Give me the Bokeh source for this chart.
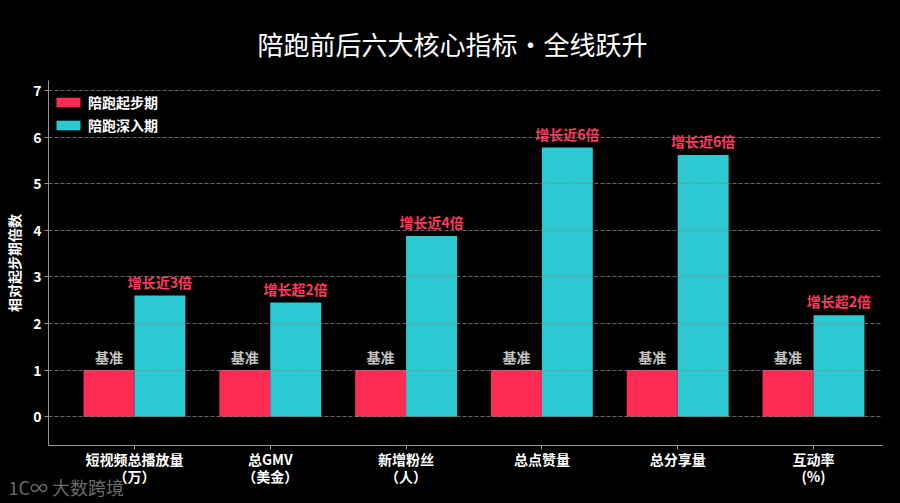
from bokeh.plotting import figure
from bokeh.models import ColumnDataSource, FixedTicker, Range1d, Legend, LegendItem, Title
from bokeh.transform import dodge
from bokeh.embed import file_html
from bokeh.resources import INLINE
from bokeh.core.properties import value

# ---- data ----
categories = ["短视频总播放量\n（万）", "总GMV\n（美金）", "新增粉丝\n（人）", "总点赞量", "总分享量", "互动率\n(%)"]
stage_start = [1, 1, 1, 1, 1, 1]
stage_deep = [2.6, 2.45, 3.88, 5.78, 5.62, 2.18]
base_labels = ["基准", "基准", "基准", "基准", "基准", "基准"]
growth_labels = ["增长近3倍", "增长超2倍", "增长近4倍", "增长近6倍", "增长近6倍", "增长超2倍"]
series_names = ["陪跑起步期", "陪跑深入期"]
y_ticks = [0, 1, 2, 3, 4, 5, 6, 7]
title_text = "陪跑前后六大核心指标・全线跃升"
y_label_text = "相对起步期倍数"
watermark_text = "1C∞ 大数跨境"

FONT = "Noto Sans CJK SC"
RED = "#fe2c55"
TEAL = "#2cc9d3"
W, H = 900, 503
FL, FR, FT, FB = 48, 882, 80, 445   # frame edges in page pixels

p = figure(width=W, height=H, output_backend="svg", toolbar_location=None,
           x_range=Range1d(-0.633, 5.508), y_range=Range1d(-0.62, 7.22),
           min_border_left=FL, min_border_right=W - FR, min_border_top=FT, min_border_bottom=H - FB,
           background_fill_color="black", border_fill_color="black", outline_line_color=None)

idx = list(range(len(categories)))
src = ColumnDataSource(dict(x=idx, s1=stage_start, s2=stage_deep, base=base_labels, growth=growth_labels))

bw = 0.375
r1 = p.vbar(x=dodge('x', -bw / 2), top='s1', bottom=0, width=bw, source=src,
            fill_color=RED, line_color=None)
r2 = p.vbar(x=dodge('x', bw / 2), top='s2', bottom=0, width=bw, source=src,
            fill_color=TEAL, line_color=None)

p.text(x=dodge('x', -bw / 2), y='s1', text='base', source=src, text_align='center',
       text_baseline='bottom', y_offset=-3, text_font=value(FONT), text_font_style='bold',
       text_font_size='14px', text_color='#c4c4c4')
p.text(x=dodge('x', bw / 2), y='s2', text='growth', source=src, text_align='center',
       text_baseline='bottom', y_offset=-4, text_font=value(FONT), text_font_style='bold',
       text_font_size='14px', text_color='#ff3a5e')

# axes
p.xaxis.ticker = FixedTicker(ticks=idx)
p.xaxis.major_label_overrides = {i: c for i, c in enumerate(categories)}
p.yaxis.ticker = FixedTicker(ticks=y_ticks)
for ax in (p.xaxis, p.yaxis):
    ax.axis_line_color = "#9a9a9a"
    ax.major_tick_line_color = "#9a9a9a"
    ax.major_tick_out = 4
    ax.major_tick_in = 0
    ax.minor_tick_line_color = None
    ax.major_label_text_color = "white"
    ax.major_label_text_font = FONT
    ax.major_label_text_font_style = "bold"
    ax.major_label_text_font_size = "14px"
p.xaxis.major_label_standoff = -1
p.xaxis.major_label_text_line_height = 0.85
p.yaxis.major_label_standoff = 3
p.yaxis.axis_label = y_label_text
p.yaxis.axis_label_standoff = 6
p.yaxis.axis_label_text_color = "white"
p.yaxis.axis_label_text_font = FONT
p.yaxis.axis_label_text_font_style = "bold"
p.yaxis.axis_label_text_font_size = "14px"

p.xgrid.visible = False
p.ygrid.grid_line_color = "#8a8a8a"
p.ygrid.grid_line_alpha = 0.75
p.ygrid.grid_line_dash = "4 2"
p.ygrid.level = "guide"

legend = Legend(items=[LegendItem(label=series_names[0], renderers=[r1]),
                       LegendItem(label=series_names[1], renderers=[r2])],
                location=(5, 309), background_fill_alpha=0, border_line_color=None,
                label_text_color="white", label_text_font=FONT, label_text_font_style="bold",
                label_text_font_size="14px", glyph_width=30, glyph_height=12,
                label_height=23, spacing=0, margin=0, padding=0, label_standoff=5)
p.add_layout(legend)

p.title.text = title_text
p.title.align = "left"
p.title.offset = 209
p.title.standoff = 34
p.title.vertical_align = "top"
p.title.text_font = FONT
p.title.text_font_size = "26px"
p.title.text_font_style = "normal"
p.title.text_color = "white"

wm = Title(text=watermark_text, align="left", offset=-40, standoff=-30, vertical_align="top",
           text_font=FONT, text_font_size="18px", text_font_style="normal",
           text_color="#808080", text_alpha=0.85)
p.add_layout(wm, "below")

html = file_html(p, INLINE)
html = html.replace("<head>", "<head><style>html,body{background:#000;}</style>", 1)
open("out.html", "w").write(html)
